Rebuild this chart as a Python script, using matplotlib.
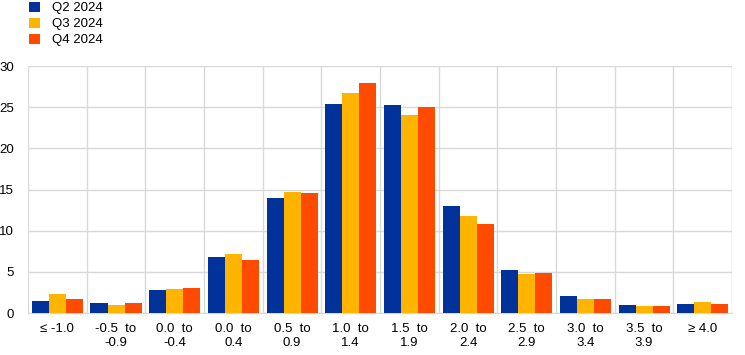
import numpy as np
import matplotlib.pyplot as plt

plt.rcParams['font.family'] = ['Liberation Sans', 'DejaVu Sans']
plt.rcParams['font.size'] = 9.5

cats = ['\u2264 -1.0', '-0.5  to\n-0.9', '0.0  to\n-0.4', '0.0  to\n0.4', '0.5  to\n0.9',
        '1.0  to\n1.4', '1.5  to\n1.9', '2.0  to\n2.4', '2.5  to\n2.9', '3.0  to\n3.4',
        '3.5  to\n3.9', '\u2265 4.0']
q2 = [1.5, 1.25, 2.8, 6.8, 14.0, 25.4, 25.3, 13.0, 5.2, 2.1, 1.0, 1.1]
q3 = [2.3, 1.0, 2.9, 7.2, 14.7, 26.7, 24.1, 11.8, 4.8, 1.7, 0.9, 1.35]
q4 = [1.7, 1.25, 3.0, 6.4, 14.6, 27.9, 25.0, 10.8, 4.9, 1.7, 0.9, 1.1]
series = [('Q2 2024', q2, '#003299'), ('Q3 2024', q3, '#FFB400'), ('Q4 2024', q4, '#FF4B00')]

fig = plt.figure(figsize=(7.45, 3.55), dpi=100)
ax = fig.add_axes([0.0376, 0.118, 0.945, 0.696])

x = np.arange(len(cats))
w = 0.29
for i, (name, vals, col) in enumerate(series):
    ax.bar(x + (i - 1) * w, vals, w, color=col, label=name, zorder=3)

ax.set_xlim(-0.5, len(cats) - 0.5)
ax.set_ylim(0, 30)
ax.set_yticks(range(0, 31, 5))
ax.set_xticks(x)
ax.set_xticklabels(cats)
for b in np.arange(-0.5, len(cats), 1.0):
    ax.axvline(b, color='#d9d9d9', lw=1, zorder=1)
ax.yaxis.grid(True, color='#d9d9d9', lw=1, zorder=1)
for s in ['top', 'right', 'left']:
    ax.spines[s].set_visible(False)
ax.spines['bottom'].set_color('#d9d9d9')
ax.tick_params(length=0, pad=7)
ax.tick_params(axis='y', pad=10)

fig.legend(loc='upper left', bbox_to_anchor=(0.032, 1.01), frameon=False,
           handlelength=0.8, handleheight=0.8, handletextpad=0.9, labelspacing=0.25,
           borderaxespad=0)

fig.savefig('out.png', dpi=100)
